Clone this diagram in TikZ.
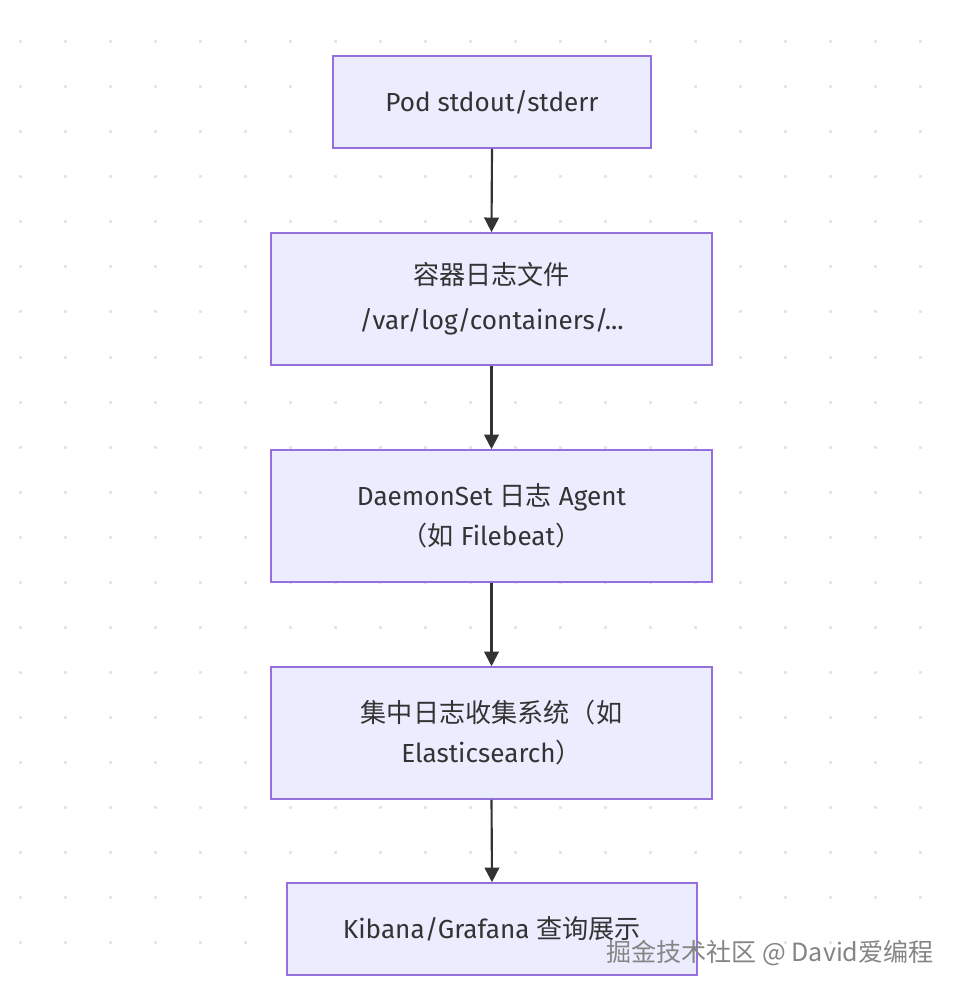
\documentclass[tikz,border=0pt]{standalone}
\usepackage{fontspec}
\setmainfont{Fira Sans}
\newfontfamily\cjk{Noto Sans CJK SC}
\usetikzlibrary{arrows.meta}
\definecolor{boxfill}{HTML}{ECECFF}
\definecolor{boxline}{HTML}{9370DB}
\definecolor{txt}{HTML}{333333}
\definecolor{dotc}{HTML}{E6E6E6}
\definecolor{wm}{HTML}{858585}
\tikzset{
  flowbox/.style={draw=boxline, fill=boxfill, line width=1.2pt, inner sep=0pt,
    align=center, text=txt, font=\fontsize{19.6pt}{30pt}\selectfont},
  flowarrow/.style={draw=txt, line width=1.6pt, -{Triangle[length=11pt,width=11pt]}},
}
\begin{document}
\begin{tikzpicture}[x=0.75pt,y=-0.75pt]
\useasboundingbox (0,0) rectangle (961,994);
\fill[white] (0,0) rectangle (961,994);
\foreach \i in {0,...,20}{
  \foreach \j in {0,...,20}{
    \fill[dotc] ({20+45*\i-1.5},{42+45*\j-1.5}) rectangle ++(3,3);
  }
}
\node[flowbox, minimum width=238.5pt, minimum height=69pt] (a) at (492,102) {Pod stdout/stderr};
\node[flowbox, minimum width=330.75pt, minimum height=99pt, font=\fontsize{19.6pt}{34pt}\selectfont] (b) at (491.5,299) {{\cjk 容器日志文件}\\/var/log/containers/...};
\node[flowbox, minimum width=330.75pt, minimum height=99pt] (c) at (491.5,516) {DaemonSet {\cjk 日志} Agent\\{\cjk （如} Filebeat{\cjk ）}};
\node[flowbox, minimum width=330.75pt, minimum height=99pt] (d) at (491.5,733) {{\cjk 集中日志收集系统（如}\\Elasticsearch{\cjk ）}};
\node[flowbox, minimum width=307.5pt, minimum height=69pt] (e) at (492,929) {Kibana/Grafana {\cjk 查询展示}};
\draw[flowarrow] (a.south) -- (b.north);
\draw[flowarrow] (b.south) -- (c.north);
\draw[flowarrow] (c.south) -- (d.north);
\draw[flowarrow] (d.south) -- (e.north);
\node[text=wm, font=\cjk\fontsize{18.8pt}{22pt}\selectfont, inner sep=0pt] (wmk) at (770,953) {掘金技术社区 @ David爱编程};
\end{tikzpicture}
\end{document}
